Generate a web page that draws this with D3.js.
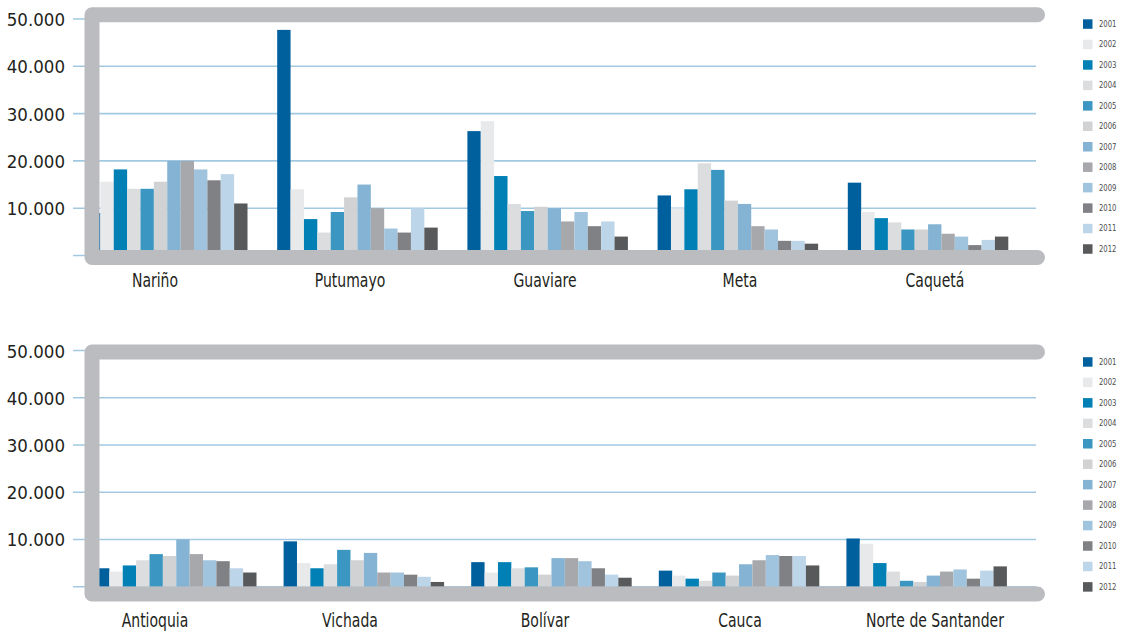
<!DOCTYPE html>
<html>
<head>
<meta charset="utf-8">
<script src="https://cdn.jsdelivr.net/npm/d3@7"></script>
<style>
  html, body { margin: 0; padding: 0; background: #ffffff; }
  svg { display: block; }
  text { font-family: "DejaVu Sans Condensed", "Liberation Sans Narrow", sans-serif; }
</style>
</head>
<body>
<svg id="chart" width="1121" height="635"></svg>
<script>
// ---------------- DATA ----------------
const years = ["2001","2002","2003","2004","2005","2006","2007","2008","2009","2010","2011","2012"];
const yearColors = ["#00609e","#e8e9eb","#0080b4","#dcdddf","#3b97c1","#d1d2d4","#84b3d3","#a7a8ab","#a1c4de","#808184","#bcd5e9","#58595b"];
const tickValues = [0, 10000, 20000, 30000, 40000, 50000];

const categoriesTop = ["Nariño", "Putumayo", "Guaviare", "Meta", "Caquetá"];
const narino   = [9000, 15600, 18200, 14100, 14100, 15600, 20000, 20000, 18200, 15900, 17200, 11000];
const putumayo = [47700, 14000, 7700, 4850, 9200, 12300, 15000, 10000, 5700, 4850, 10000, 5900];
const guaviare = [26300, 28400, 16800, 10900, 9400, 10300, 10000, 7200, 9200, 6200, 7200, 4000];
const meta     = [12700, 10000, 14000, 19500, 18100, 11600, 10900, 6200, 5500, 3100, 3100, 2500];
const caqueta  = [15400, 9200, 7900, 7000, 5500, 5500, 6600, 4600, 4000, 2200, 3300, 4000];

const categoriesBottom = ["Antioquia", "Vichada", "Bolívar", "Cauca", "Norte de Santander"];
const antioquia = [3900, 3200, 4500, 5600, 6900, 6500, 10000, 6900, 5600, 5400, 3900, 3000];
const vichada   = [9600, 5000, 3900, 4750, 7800, 5600, 7150, 3000, 3000, 2550, 2100, 1000];
const bolivar   = [5200, 3000, 5200, 3900, 4100, 2550, 6050, 6050, 5400, 3900, 2550, 1900];
const cauca     = [3400, 2350, 1700, 1250, 3000, 2350, 4750, 5600, 6700, 6500, 6500, 4500];
const norte     = [10200, 9100, 5000, 3200, 1250, 1000, 2350, 3200, 3650, 1700, 3400, 4300];

const valuesTop = [narino, putumayo, guaviare, meta, caqueta];
const valuesBottom = [antioquia, vichada, bolivar, cauca, norte];

// ---------------- DRAW ----------------
const svg = d3.select("#chart");
const locale = d3.formatLocale({decimal: ",", thousands: ".", grouping: [3], currency: ["$", ""]});
const fmt = locale.format(",");
const color = d3.scaleOrdinal().domain(years).range(yearColors);

// label positions are shared by both panels
const labelX = d3.scalePoint().domain(d3.range(5)).range([155, 935]);

function panel(cfg) {
  const g = svg.append("g");
  const y = d3.scaleLinear().domain([0, 50000]).range([cfg.y0, cfg.y50]);
  const groupW = 160.5;
  const x0 = d3.scaleBand()
    .domain(cfg.categories)
    .range([cfg.start, cfg.start + 4 * cfg.step + groupW])
    .paddingInner((cfg.step - groupW) / cfg.step)
    .paddingOuter(0);
  const x1 = d3.scaleBand().domain(years).range([0, x0.bandwidth()]).padding(0);

  // gridlines (with left stubs)
  g.append("g").selectAll("line").data(tickValues).join("line")
    .attr("x1", 73).attr("x2", 1036)
    .attr("y1", d => y(d)).attr("y2", d => y(d))
    .attr("stroke", "#a3c9e2").attr("stroke-width", 1.6);

  // tick labels
  g.append("g").selectAll("text").data(tickValues.filter(d => d > 0)).join("text")
    .attr("x", 65).attr("y", d => y(d)).attr("dy", "0.38em")
    .attr("text-anchor", "end")
    .attr("font-size", 18.5)
    .attr("fill", "#231f20")
    .text(d => fmt(d));

  // bars
  const groups = g.append("g").selectAll("g").data(cfg.categories).join("g")
    .attr("transform", d => `translate(${x0(d)},0)`);
  groups.selectAll("rect")
    .data((d, i) => cfg.values[i].map((v, j) => ({year: years[j], value: v})))
    .join("rect")
    .attr("x", d => x1(d.year))
    .attr("width", x1.bandwidth())
    .attr("y", d => y(d.value))
    .attr("height", d => y(0) - y(d.value))
    .attr("fill", d => color(d.year));

  // frame
  const f = cfg.frame;
  g.append("path")
    .attr("d", `M${f.right},${f.top} L${f.left},${f.top} L${f.left},${f.bottom} L${f.right},${f.bottom}`)
    .attr("fill", "none")
    .attr("stroke", "#bbbcc0")
    .attr("stroke-width", 15)
    .attr("stroke-linejoin", "round")
    .attr("stroke-linecap", "round");

  // category labels (horizontally condensed)
  g.append("g").selectAll("text").data(cfg.categories).join("text")
    .attr("transform", (d, i) => `translate(${labelX(i)},${cfg.labelY}) scale(0.82,1)`)
    .attr("text-anchor", "middle")
    .attr("font-size", 19)
    .attr("fill", "#231f20")
    .text(d => d);

  // legend
  const leg = g.append("g").selectAll("g").data(years).join("g")
    .attr("transform", (d, i) => `translate(1083,${cfg.legendY + i * 20.45})`);
  leg.append("rect")
    .attr("x", 0).attr("y", -4.5).attr("width", 9.5).attr("height", 9.5)
    .attr("fill", d => color(d));
  leg.append("text")
    .attr("transform", "translate(16,0) scale(0.85,1)")
    .attr("dy", "0.35em")
    .attr("font-size", 9)
    .attr("fill", "#4d4d4f")
    .text(d => d);
}

panel({
  categories: categoriesTop, values: valuesTop,
  y0: 255.5, y50: 19,
  start: 87, step: 190.2,
  frame: {left: 92, top: 14.8, bottom: 257.5, right: 1037.5},
  labelY: 287,
  legendY: 23.8
});

panel({
  categories: categoriesBottom, values: valuesBottom,
  y0: 586.7, y50: 350.5,
  start: 96, step: 187.6,
  frame: {left: 92, top: 352, bottom: 594, right: 1037.5},
  labelY: 627,
  legendY: 361.7
});
</script>
</body>
</html>
